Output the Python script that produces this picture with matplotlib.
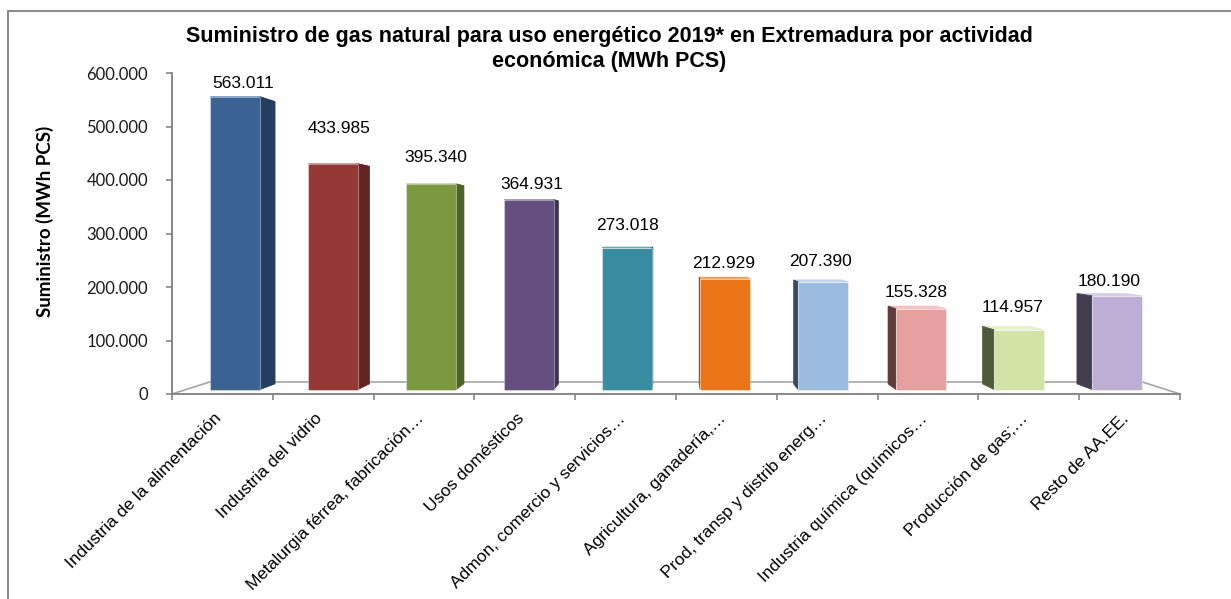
import matplotlib
matplotlib.use('Agg')
import matplotlib.pyplot as plt
from matplotlib.patches import Polygon
from matplotlib.lines import Line2D

# ---------------- data ----------------
categories = [
    "Industria de la alimentación",
    "Industria del vidrio",
    "Metalurgia férrea, fabricación…",
    "Usos domésticos",
    "Admon, comercio y servicios…",
    "Agricultura, ganadería,…",
    "Prod, transp y distrib energ…",
    "Industria química (químicos…",
    "Producción de gas;…",
    "Resto de AA.EE.",
]
values = [563011, 433985, 395340, 364931, 273018, 212929, 207390, 155328, 114957, 180190]
y_ticks = [0, 100000, 200000, 300000, 400000, 500000, 600000]
title = ("Suministro de gas natural para uso energético 2019* en Extremadura por actividad\n"
         "económica (MWh PCS)")
y_label = "Suministro (MWh PCS)"

# ---------------- style ----------------
front_colors = ["#3A6394", "#953735", "#7A983F", "#654E80", "#378CA1",
                "#EA7417", "#9CBBE0", "#E5A09F", "#D2E3A6", "#BEADD5"]
side_colors = ["#233E5F", "#622322", "#4D6229", "#3F3152", "#225C6A",
               "#9A4A0B", "#3A4A60", "#5E3A3B", "#4F5A3A", "#433D50"]
top_colors = ["#5D82B3", "#B55553", "#97B55B", "#8470A0", "#55AAC0",
              "#F49A4E", "#BCD3EE", "#F2C3C2", "#E6F0CC", "#D6CAE6"]
label_offsets_px = [13, 35, 26, 15, 22, 15, 20, 16, 22, 14]

W, H = 1231, 599
DPI = 100
PX = 72.0 / DPI  # points per pixel

fig = plt.figure(figsize=(W / DPI, H / DPI), dpi=DPI)
fig.patch.set_facecolor("white")

ax_l, ax_r, ax_t, ax_b = 172, 1180, 73, 394
ax = fig.add_axes([ax_l / W, 1 - ax_b / H, (ax_r - ax_l) / W, (ax_b - ax_t) / H])
n = len(values)
ax.set_xlim(0, n)
ax.set_ylim(0, 600000)
ax.patch.set_alpha(0)

# perspective parameters
xv, yv = n / 2.0, 300000
s_front, s_back, s_floor = 0.972, 0.937, 0.923
bar_w = 0.51


def proj(x, y, s):
    return xv + (x - xv) * s, yv + (y - yv) * s


grid_grey = "#868686"
# floor
fb_l = proj(0, 0, s_floor)
fb_r = proj(n, 0, s_floor)
ax.add_patch(Polygon([(0, 0), (n, 0), fb_r, fb_l], closed=True, facecolor="white",
                     edgecolor="none", clip_on=False, zorder=1))
for (p, q) in [(fb_l, fb_r), ((0, 0), fb_l), ((n, 0), fb_r)]:
    ax.add_line(Line2D([p[0], q[0]], [p[1], q[1]], color="#A6A6A6", lw=1.2,
                       clip_on=False, zorder=1.5))

# bars
for i, v in enumerate(values):
    c = i + 0.5
    x0, x1 = c - bar_w / 2, c + bar_w / 2
    fl_b = proj(x0, 0, s_front); fr_b = proj(x1, 0, s_front)
    fl_t = proj(x0, v, s_front); fr_t = proj(x1, v, s_front)
    bl_b = proj(x0, 0, s_back); br_b = proj(x1, 0, s_back)
    bl_t = proj(x0, v, s_back); br_t = proj(x1, v, s_back)
    # top face
    ax.add_patch(Polygon([fl_t, fr_t, br_t, bl_t], closed=True, facecolor=top_colors[i],
                         edgecolor=top_colors[i], lw=0.5, clip_on=False, zorder=2))
    # side face
    if c < xv:
        side = [fr_b, fr_t, br_t, br_b]
    else:
        side = [fl_b, fl_t, bl_t, bl_b]
    ax.add_patch(Polygon(side, closed=True, facecolor=side_colors[i],
                         edgecolor=side_colors[i], lw=0.5, clip_on=False, zorder=3))
    # front face
    ax.add_patch(Polygon([fl_b, fr_b, fr_t, fl_t], closed=True, facecolor=front_colors[i],
                         edgecolor=(1, 1, 1, 0.35), lw=0.8, clip_on=False, zorder=4))
    # value label
    lx, _ = proj(c, v, (s_front + s_back) / 2)
    _, ly = proj(c, v, s_front)
    ax.annotate(f"{v:,.0f}".replace(",", "."), xy=(lx, ly),
                xytext=(0, label_offsets_px[i] * PX), textcoords="offset points",
                ha="center", va="center", fontsize=12.5, family="Liberation Sans",
                color="black", annotation_clip=False, zorder=6)

# axes styling
for side in ["top", "right"]:
    ax.spines[side].set_visible(False)
for side in ["left", "bottom"]:
    ax.spines[side].set_color(grid_grey)
    ax.spines[side].set_linewidth(1.4)
    ax.spines[side].set_zorder(1.6)

ax.set_yticks(y_ticks)
ax.set_yticklabels([f"{t:,.0f}".replace(",", ".") for t in y_ticks],
                   fontsize=12, family="Lato", color="#1a1a1a")
ax.tick_params(axis="y", length=6 * PX, width=1.2, color=grid_grey, pad=18 * PX)
ax.set_xticks(range(n + 1))
ax.set_xticklabels([])
ax.tick_params(axis="x", length=6 * PX, width=1.2, color=grid_grey)

for i, cat in enumerate(categories):
    ax.annotate(cat, xy=(i + 0.5, 0), xycoords="data",
                xytext=(-3 * PX, -22 * PX), textcoords="offset points",
                rotation=45, rotation_mode="anchor", ha="right", va="center",
                fontsize=12.5, family="Liberation Sans", color="black",
                annotation_clip=False)

fig.text(45 / W, 1 - 221 / H, y_label, rotation=90, ha="center", va="center",
         fontsize=13.5, fontweight="bold", family="Lato")

fig.text(609 / W, 1 - 49 / H, title, ha="center", va="center", fontsize=15.5,
         fontweight="bold", family="Liberation Sans", linespacing=1.2)

# outer frame (partially visible chart border)
fig.add_artist(Line2D([8 / W, 1.0], [1 - 10.5 / H, 1 - 10.5 / H], color="#8C8C8C", lw=2 * PX,
                      transform=fig.transFigure))
fig.add_artist(Line2D([8 / W, 8 / W], [0, 1 - 10.5 / H], color="#8C8C8C", lw=2 * PX,
                      transform=fig.transFigure))

fig.savefig("out.png", dpi=DPI)
